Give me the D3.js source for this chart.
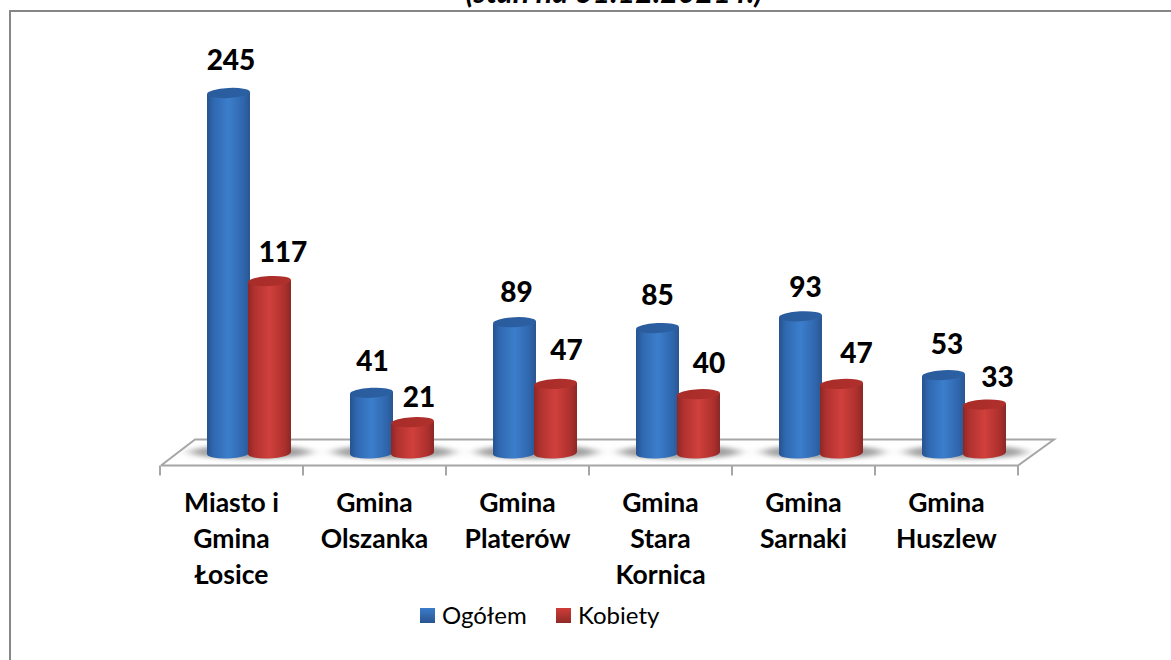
<!DOCTYPE html>
<html><head><meta charset="utf-8">
<script src="https://cdn.jsdelivr.net/npm/d3@7"></script>
<style>html,body{margin:0;padding:0;background:#fff}svg{display:block}text{font-family:Lato,"Open Sans",sans-serif}</style>
</head><body><svg id="c" width="1171" height="660"></svg>
<script>
const categories=[["Miasto i","Gmina","Łosice"],["Gmina","Olszanka"],["Gmina","Platerów"],["Gmina","Stara","Kornica"],["Gmina","Sarnaki"],["Gmina","Huszlew"]];
const seriesNames=["Ogółem","Kobiety"];
const ogolem=[245,41,89,85,93,53];
const kobiety=[117,21,47,40,47,33];
const titleText="(stan na 31.12.2021 r.)";

const svg=d3.select("#c");
const defs=svg.append("defs");
function cyl(id,stops){const g=defs.append("linearGradient").attr("id",id);stops.forEach(s=>g.append("stop").attr("offset",s[0]).attr("stop-color",s[1]));}
cyl("bBody",[[0,"#25538f"],[.15,"#2f68b0"],[.5,"#3c7ecc"],[.85,"#2f66ad"],[1,"#2a5690"]]);
cyl("rBody",[[0,"#8f2624"],[.15,"#b03230"],[.5,"#d0403c"],[.85,"#ad302d"],[1,"#8a2826"]]);
cyl("bTop",[[0,"#2a5c9c"],[1,"#2b60a4"]]);
cyl("rTop",[[0,"#a82c28"],[1,"#b0302c"]]);
const lg=(id,a,b)=>{const g=defs.append("linearGradient").attr("id",id).attr("x1",0).attr("y1",0).attr("x2",0).attr("y2",1);g.append("stop").attr("offset",0).attr("stop-color",a);g.append("stop").attr("offset",1).attr("stop-color",b);};
lg("bLeg","#3b7ccb","#28558f");lg("rLeg","#d03c38","#8f2a27");
const f=defs.append("filter").attr("id","sh").attr("x","-30%").attr("y","-100%").attr("width","160%").attr("height","300%");
f.append("feGaussianBlur").attr("stdDeviation","7 2");

// frame: only the left and top edges fall inside the picture
svg.append("path").attr("d","M10,660V11H1171").attr("fill","none").attr("stroke","#868686").attr("stroke-width",2);
svg.append("text").attr("x",614).attr("y",3).attr("text-anchor","middle").attr("font-size",30.5).attr("font-weight",700).attr("font-style","italic").text(titleText);

// scales
const x0=d3.scaleBand().domain(d3.range(categories.length)).range([160,1018]);
const y=d3.scaleLinear().domain([0,245]).range([453,93]);
const barW=43,rx=barW/2,ry=5.5,tilt=1;

// floor
const fl=svg.append("g").attr("fill","none").attr("stroke","#a6a6a6").attr("stroke-width",2);
const fx0=x0.range()[0], fx1=x0.range()[1], fy=465.5;
fl.append("path").attr("fill","#fff").attr("d",d3.line()([[fx0+1,fy],[fx0+35,fy-26],[fx1+36,fy-26],[fx1,fy],[fx0+1,fy]]));
x0.domain().concat([categories.length]).forEach(i=>{
  const xx=i<categories.length?x0(i):fx1;
  fl.append("line").attr("x1",xx).attr("x2",xx).attr("y1",fy).attr("y2",fy+10);
});

// label placement relative to the top of each bar and the band centre
const dxO=[-0.5,-2,-1,-3,2,0.5], dyO=[33,32,30,33,29,31];
const dxK=[51.5,44.5,49,48.5,53,51], dyK=[29,25,34,31,31,27];

const groups=svg.selectAll("g.cat").data(categories).join("g").attr("class","cat");
function cylinder(g,cx,val,body,top){
  const yt=y(val),yb=y(0);
  const d=`M${cx-rx},${yt+tilt}L${cx-rx},${yb+tilt}A${rx},${ry} -3 0 0 ${cx+rx},${yb-tilt}L${cx+rx},${yt-tilt}Z`;
  g.append("path").attr("d",d).attr("fill",`url(#${body})`);
  g.append("ellipse").attr("cx",cx).attr("cy",yt).attr("rx",rx).attr("ry",ry-.5).attr("fill",`url(#${top})`).attr("transform",`rotate(-3 ${cx} ${yt})`);
}
groups.each(function(d,i){
  const g=d3.select(this), cx=x0(i)+x0.bandwidth()/2;
  const cb=cx-3, cr=cx+38;
  g.append("ellipse").attr("cx",cx+19).attr("cy",452).attr("rx",60).attr("ry",7).attr("fill","#a2a2a2").attr("filter","url(#sh)");
  cylinder(g,cb,ogolem[i],"bBody","bTop");
  cylinder(g,cr,kobiety[i],"rBody","rTop");
  const lab=(xx,yy,v)=>g.append("text").attr("x",xx).attr("y",yy).attr("text-anchor","middle").attr("font-size",28).attr("font-weight",900).attr("dy","0.35em").text(v);
  lab(cx+dxO[i],y(ogolem[i])-dyO[i],ogolem[i]);
  lab(cx+dxK[i],y(kobiety[i])-dyK[i],kobiety[i]);
  const t=g.append("text").attr("text-anchor","middle").attr("font-size",26.5).attr("font-weight",700);
  d.forEach((s,k)=>t.append("tspan").attr("x",cx).attr("y",512+k*36).text(s));
});

// legend
const legend=[[420,"bLeg",442,seriesNames[0]],[556,"rLeg",578,seriesNames[1]]];
legend.forEach(l=>{
  svg.append("rect").attr("x",l[0]).attr("y",608).attr("width",15).attr("height",15).attr("fill",`url(#${l[1]})`);
  svg.append("text").attr("x",l[2]).attr("y",624).attr("font-size",24).text(l[3]);
});
</script></body></html>
